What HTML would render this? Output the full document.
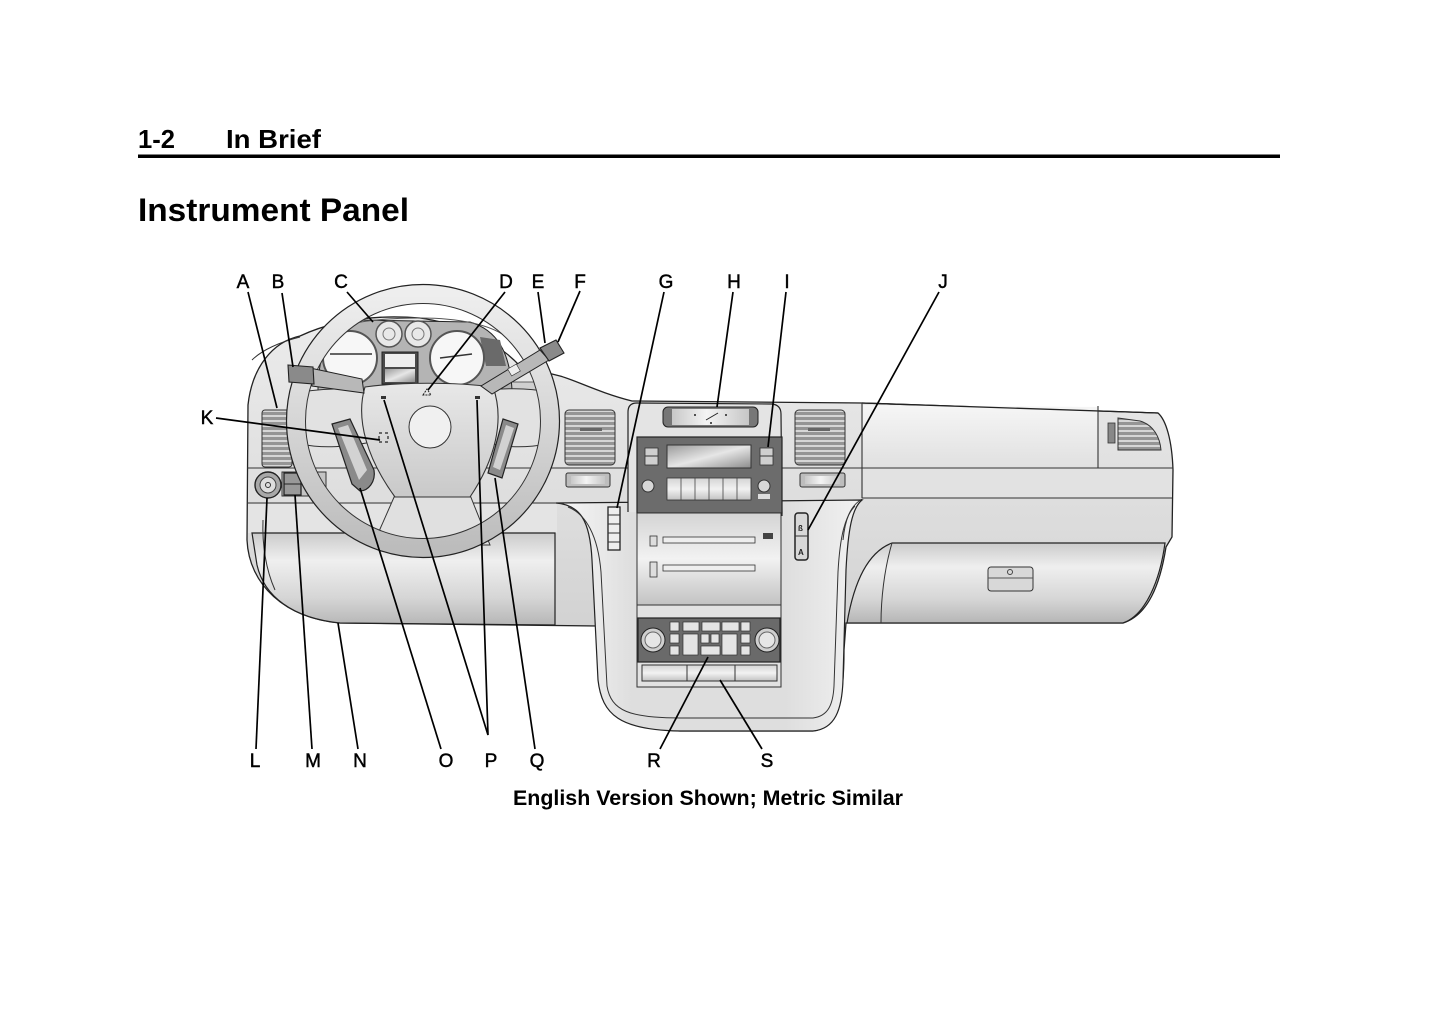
<!DOCTYPE html>
<html><head><meta charset="utf-8">
<style>
html,body{margin:0;padding:0;background:#fff;}
svg{display:block}
</style></head>
<body>
<svg width="1445" height="1012" viewBox="0 0 1445 1012" xmlns="http://www.w3.org/2000/svg" font-family="'Liberation Sans', Arial, sans-serif">
<defs>
  <linearGradient id="gDash" x1="0" y1="0" x2="0" y2="1">
    <stop offset="0" stop-color="#ececec"/><stop offset="0.5" stop-color="#dcdcdc"/><stop offset="1" stop-color="#c8c8c8"/>
  </linearGradient>
  <linearGradient id="gBol" x1="0" y1="0" x2="0" y2="1">
    <stop offset="0" stop-color="#cbcbcb"/><stop offset="0.3" stop-color="#efefef"/><stop offset="0.7" stop-color="#d6d6d6"/><stop offset="1" stop-color="#b6b6b6"/>
  </linearGradient>
  <linearGradient id="gRim" x1="0" y1="0" x2="0" y2="1">
    <stop offset="0" stop-color="#eeeeee"/><stop offset="0.5" stop-color="#d6d6d6"/><stop offset="1" stop-color="#bcbcbc"/>
  </linearGradient>
  <linearGradient id="gMetal" x1="0" y1="0" x2="1" y2="0">
    <stop offset="0" stop-color="#c8c8c8"/><stop offset="0.45" stop-color="#f4f4f4"/><stop offset="1" stop-color="#c6c6c6"/>
  </linearGradient>
  <linearGradient id="gMetalV" x1="0" y1="0" x2="0" y2="1">
    <stop offset="0" stop-color="#d4d4d4"/><stop offset="0.5" stop-color="#f2f2f2"/><stop offset="1" stop-color="#c2c2c2"/>
  </linearGradient>
  <linearGradient id="gDisp" x1="0" y1="0" x2="1" y2="1">
    <stop offset="0" stop-color="#9a9a9a"/><stop offset="0.5" stop-color="#e6e6e6"/><stop offset="1" stop-color="#8c8c8c"/>
  </linearGradient>
  <linearGradient id="gHub" x1="0" y1="0" x2="0" y2="1">
    <stop offset="0" stop-color="#e8e8e8"/><stop offset="1" stop-color="#c9c9c9"/>
  </linearGradient>
  <linearGradient id="gPillar" x1="0" y1="0" x2="1" y2="0">
    <stop offset="0" stop-color="#f8f8f8"/><stop offset="0.25" stop-color="#dedede"/><stop offset="0.75" stop-color="#dedede"/><stop offset="1" stop-color="#f2f2f2"/>
  </linearGradient>
  <linearGradient id="gRD" x1="0" y1="0" x2="0" y2="1">
    <stop offset="0" stop-color="#f6f6f6"/><stop offset="1" stop-color="#e0e0e0"/>
  </linearGradient>
  <pattern id="slats" x="0" y="0" width="6" height="5" patternUnits="userSpaceOnUse">
    <rect width="6" height="5" fill="#959595"/><rect y="0" width="6" height="2" fill="#d6d6d6"/>
  </pattern>
</defs>

<rect width="1445" height="1012" fill="#fff"/>

<!-- Header -->
<text x="138" y="148" font-size="26" font-weight="bold" textLength="37" lengthAdjust="spacingAndGlyphs">1-2</text>
<text x="226" y="148" font-size="26" font-weight="bold" textLength="95" lengthAdjust="spacingAndGlyphs">In Brief</text>
<rect x="138" y="154.5" width="1142" height="3.5" fill="#000"/>
<text x="138" y="221" font-size="32" font-weight="bold" textLength="271" lengthAdjust="spacingAndGlyphs">Instrument Panel</text>

<!-- ===== Dashboard base ===== -->
<path d="M300,336 C272,342 252,368 248,405 L247,540 C249,585 285,618 340,623 L597,626 C598,690 612,728 680,731 L813,731 C838,728 844,700 844,650 L846,623 L1123,623 C1148,615 1160,585 1166,547 L1172,537 L1173,470 C1172,440 1166,420 1158,413 L862,403 L632,401 C600,393 575,380 560,376 L520,366 C500,345 470,325 420,318 C370,314 330,322 300,336 Z" fill="url(#gDash)" stroke="#222" stroke-width="1.3"/>

<!-- left dash lines -->
<path d="M252,360 C262,350 280,342 300,337" fill="none" stroke="#333" stroke-width="1"/>
<line x1="247" y1="468" x2="632" y2="468" stroke="#333" stroke-width="1.1"/>
<line x1="247" y1="503" x2="558" y2="503" stroke="#333" stroke-width="1.1"/>
<rect x="248" y="504" width="309" height="29" fill="#e4e4e4"/>

<!-- knee bolster left -->
<path d="M252,533 L555,533 L555,625 L340,623 C292,618 264,596 257,565 Z" fill="url(#gBol)" stroke="#222" stroke-width="1.2"/>
<path d="M263,520 C262,545 266,570 275,590" fill="none" stroke="#333" stroke-width="1"/>

<!-- center pillar sweep -->
<path d="M556,503 C580,505 590,520 592,560 L598,680 C602,715 620,730 680,731 L813,731 C835,729 842,710 843,680 L846,570 C848,530 852,508 862,500 Z" fill="url(#gPillar)" stroke="#222" stroke-width="1.2"/>
<path d="M568,507 C586,514 598,536 601,572 L607,686 C611,711 630,718 680,718 L813,718 C828,716 833,705 834,686 L838,572 C840,536 845,516 855,506" fill="none" stroke="#333" stroke-width="1"/>

<!-- center stack top piece -->
<path d="M628,512 L628,412 Q628,403 637,403 L772,404 Q781,405 781,414 L782,516" fill="#e4e4e4" stroke="#222" stroke-width="1.2"/>

<!-- vents left/right of stack -->
<rect x="565" y="410" width="50" height="55" rx="4" fill="url(#slats)" stroke="#333" stroke-width="1"/>
<rect x="580" y="428" width="22" height="3" fill="#666"/>
<rect x="566" y="473" width="44" height="14" rx="2" fill="#bdbdbd" stroke="#333" stroke-width="1"/>
<rect x="571" y="476" width="34" height="8" fill="url(#gMetal)"/>
<rect x="795" y="410" width="50" height="55" rx="4" fill="url(#slats)" stroke="#333" stroke-width="1"/>
<rect x="808" y="428" width="22" height="3" fill="#666"/>
<rect x="800" y="473" width="45" height="14" rx="2" fill="#bdbdbd" stroke="#333" stroke-width="1"/>
<rect x="805" y="476" width="35" height="8" fill="url(#gMetal)"/>
<line x1="781" y1="468" x2="862" y2="468" stroke="#333" stroke-width="1.1"/>

<!-- right dash -->
<path d="M863,405 L1098,407 L1098,468 L863,468 Z" fill="url(#gRD)"/>
<rect x="863" y="469" width="309" height="29" fill="#e2e2e2"/>
<line x1="862" y1="403" x2="1158" y2="413" stroke="#222" stroke-width="1.3"/>
<line x1="862" y1="403" x2="862" y2="498" stroke="#333" stroke-width="1.1"/>
<line x1="1098" y1="406" x2="1098" y2="468" stroke="#333" stroke-width="1.1"/>
<line x1="862" y1="468" x2="1173" y2="468" stroke="#333" stroke-width="1.1"/>
<line x1="862" y1="498" x2="1172" y2="498" stroke="#333" stroke-width="1.1"/>
<path d="M862,499 C850,506 845,520 843,540" fill="none" stroke="#333" stroke-width="1"/>
<!-- right vent -->
<path d="M1118,418 L1140,421 C1154,425 1160,438 1161,450 L1118,450 Z" fill="url(#slats)" stroke="#333" stroke-width="1"/>
<rect x="1108" y="423" width="7" height="20" fill="#888" stroke="#333" stroke-width="0.8"/>
<!-- glove box -->
<path d="M892,543 L1165,543 C1160,580 1146,615 1123,623 L847,623 C854,582 868,552 892,543 Z" fill="url(#gBol)" stroke="#222" stroke-width="1.2"/>
<path d="M892,543 C884,570 881,600 881,623" fill="none" stroke="#333" stroke-width="1"/>
<rect x="988" y="567" width="45" height="24" rx="3" fill="#d8d8d8" stroke="#333" stroke-width="1"/>
<line x1="988" y1="578" x2="1033" y2="578" stroke="#555" stroke-width="1"/>
<circle cx="1010" cy="572" r="2.5" fill="none" stroke="#444"/>

<!-- clock -->
<rect x="663" y="407" width="95" height="20" rx="5" fill="#777" stroke="#222" stroke-width="1"/>
<rect x="672" y="409" width="77" height="16" fill="url(#gMetal)"/>
<line x1="706" y1="420" x2="718" y2="413" stroke="#222" stroke-width="1"/>
<circle cx="695" cy="415" r="1" fill="#222"/><circle cx="726" cy="415" r="1" fill="#222"/><circle cx="711" cy="423" r="1" fill="#222"/>

<!-- radio -->
<rect x="637" y="437" width="145" height="76" fill="#6c6c6c" stroke="#222" stroke-width="1.2"/>
<rect x="667" y="445" width="84" height="23" fill="url(#gDisp)" stroke="#333" stroke-width="1"/>
<rect x="645" y="448" width="13" height="17" fill="#cfcfcf" stroke="#333" stroke-width="0.8"/>
<line x1="645" y1="456" x2="658" y2="456" stroke="#333"/>
<rect x="760" y="448" width="13" height="17" fill="#cfcfcf" stroke="#333" stroke-width="0.8"/>
<line x1="760" y1="456" x2="773" y2="456" stroke="#333"/>
<rect x="667" y="478" width="84" height="22" fill="url(#gMetalV)" stroke="#333" stroke-width="0.8"/>
<g stroke="#444" stroke-width="0.8">
<line x1="681" y1="478" x2="681" y2="500"/><line x1="695" y1="478" x2="695" y2="500"/><line x1="709" y1="478" x2="709" y2="500"/><line x1="723" y1="478" x2="723" y2="500"/><line x1="737" y1="478" x2="737" y2="500"/>
</g>
<circle cx="648" cy="486" r="6" fill="#d6d6d6" stroke="#333"/>
<circle cx="764" cy="486" r="6" fill="#d6d6d6" stroke="#333"/>
<rect x="758" y="494" width="12" height="5" fill="#ddd"/>

<!-- CD area -->
<rect x="637" y="513" width="144" height="92" fill="url(#gMetalV)" stroke="#333" stroke-width="1"/>
<rect x="663" y="537" width="92" height="6" fill="#eee" stroke="#333" stroke-width="0.8"/>
<rect x="663" y="565" width="92" height="6" fill="#eee" stroke="#333" stroke-width="0.8"/>
<rect x="650" y="536" width="7" height="10" fill="#ddd" stroke="#333" stroke-width="0.8"/>
<rect x="650" y="562" width="7" height="15" fill="#ddd" stroke="#333" stroke-width="0.8"/>
<rect x="763" y="533" width="10" height="6" fill="#444"/>
<rect x="637" y="605" width="144" height="82" fill="#e2e2e2" stroke="#333" stroke-width="1"/>

<!-- climate -->
<rect x="638" y="618" width="142" height="44" fill="#6a6a6a" stroke="#222" stroke-width="1.2"/>
<circle cx="653" cy="640" r="12" fill="#cfcfcf" stroke="#222"/><circle cx="653" cy="640" r="8" fill="#e6e6e6" stroke="#666"/>
<circle cx="767" cy="640" r="12" fill="#cfcfcf" stroke="#222"/><circle cx="767" cy="640" r="8" fill="#e6e6e6" stroke="#666"/>
<g fill="#e4e4e4" stroke="#333" stroke-width="0.7">
<rect x="670" y="622" width="9" height="9"/><rect x="683" y="622" width="16" height="9"/><rect x="702" y="622" width="18" height="9"/><rect x="722" y="622" width="17" height="9"/><rect x="741" y="622" width="9" height="9"/>
<rect x="670" y="634" width="9" height="9"/><rect x="670" y="646" width="9" height="9"/>
<rect x="741" y="634" width="9" height="9"/><rect x="741" y="646" width="9" height="9"/>
<rect x="683" y="634" width="15" height="21"/><rect x="722" y="634" width="15" height="21"/>
<rect x="701" y="634" width="8" height="9"/><rect x="711" y="634" width="8" height="9"/>
<rect x="701" y="646" width="19" height="9"/>
</g>
<rect x="642" y="665" width="135" height="16" fill="url(#gMetalV)" stroke="#333" stroke-width="1"/>
<line x1="687" y1="665" x2="687" y2="681" stroke="#333"/><line x1="735" y1="665" x2="735" y2="681" stroke="#333"/>

<!-- G switch -->
<rect x="608" y="507" width="12" height="43" fill="#eee" stroke="#222" stroke-width="1.3"/>
<g stroke="#333" stroke-width="1"><line x1="608" y1="515" x2="620" y2="515"/><line x1="608" y1="524" x2="620" y2="524"/><line x1="608" y1="533" x2="620" y2="533"/><line x1="608" y1="542" x2="620" y2="542"/></g>
<!-- J switch -->
<rect x="795" y="513" width="13" height="47" rx="3" fill="#d8d8d8" stroke="#222" stroke-width="1.5"/>
<line x1="795" y1="536" x2="808" y2="536" stroke="#333"/>
<text x="798" y="531" font-size="8" font-weight="bold" fill="#222">ß</text>
<text x="798" y="555" font-size="8" font-weight="bold" fill="#222">A</text>

<!-- left vent A -->
<rect x="262" y="410" width="30" height="57" rx="3" fill="url(#slats)" stroke="#333" stroke-width="1"/>
<!-- L knob -->
<circle cx="268" cy="485" r="13" fill="#a8a8a8" stroke="#222" stroke-width="1.4"/>
<circle cx="268" cy="485" r="8" fill="#dedede" stroke="#444"/>
<circle cx="268" cy="485" r="2.5" fill="none" stroke="#333"/>
<!-- M switch -->
<rect x="282" y="472" width="44" height="24" fill="#c4c4c4" stroke="#333" stroke-width="1"/>
<rect x="284" y="473" width="17" height="22" fill="#999" stroke="#222" stroke-width="1.3"/>
<line x1="284" y1="484" x2="301" y2="484" stroke="#222"/>
<circle cx="313" cy="485" r="9" fill="#e0e0e0" stroke="#444"/>

<!-- small slot right of wheel -->
<rect x="510" y="382" width="28" height="10" fill="#cfcfcf" stroke="#444" stroke-width="0.8"/>

<!-- ===== Instrument cluster ===== -->
<path d="M318,390 C318,352 330,327 360,320 L470,322 C497,330 510,352 512,390 Z" fill="#b4b4b4" stroke="#222" stroke-width="1"/>
<path d="M330,330 C350,322 380,318 420,318 C460,318 490,325 505,336" fill="none" stroke="#555" stroke-width="1"/>
<path d="M480,337 L500,340 L506,366 L486,366 Z" fill="#6a6a6a"/>
<circle cx="350" cy="358" r="27" fill="#f7f7f7" stroke="#555" stroke-width="2"/>
<line x1="330" y1="354" x2="372" y2="354" stroke="#333" stroke-width="1.5"/>
<circle cx="457" cy="358" r="27" fill="#f7f7f7" stroke="#555" stroke-width="2"/>
<line x1="440" y1="358" x2="472" y2="354" stroke="#333" stroke-width="1.5"/>
<circle cx="389" cy="334" r="13" fill="#e8e8e8" stroke="#555" stroke-width="1.5"/>
<circle cx="389" cy="334" r="6" fill="none" stroke="#777"/>
<circle cx="418" cy="334" r="13" fill="#e8e8e8" stroke="#555" stroke-width="1.5"/>
<circle cx="418" cy="334" r="6" fill="none" stroke="#777"/>
<rect x="382" y="352" width="36" height="32" fill="#4a4a4a" stroke="#222"/>
<rect x="385" y="354" width="30" height="13" fill="#eee"/>
<rect x="385" y="369" width="30" height="13" fill="url(#gDisp)"/>

<!-- ===== Steering wheel ===== -->
<path d="M300,392 C330,388 350,388 368,390 L372,442 C340,448 320,448 300,444 Z" fill="#e2e2e2" stroke="#333" stroke-width="1"/>
<path d="M488,390 C510,388 530,388 548,392 L548,444 C525,448 505,448 485,442 Z" fill="#e2e2e2" stroke="#333" stroke-width="1"/>
<path d="M395,495 L470,495 L490,545 L373,545 Z" fill="#e0e0e0" stroke="#333" stroke-width="1"/>
<path d="M365,387 C400,382 455,382 493,387 C505,420 495,460 470,497 L395,497 C368,460 355,420 365,387 Z" fill="url(#gHub)" stroke="#333" stroke-width="1.1"/>
<circle cx="430" cy="427" r="21" fill="#f0f0f0" stroke="#333" stroke-width="1"/>
<path d="M423,395 L427,389 L431,395 Z" fill="none" stroke="#222" stroke-width="1" stroke-dasharray="2,1"/>
<rect x="381" y="396" width="5" height="3" fill="#333"/>
<rect x="475" y="396" width="5" height="3" fill="#333"/>
<rect x="379" y="433" width="9" height="9" fill="none" stroke="#222" stroke-width="1.2" stroke-dasharray="3,3"/>
<!-- paddles -->
<path d="M332,424 L350,419 L374,470 C376,482 368,491 360,491 L352,484 Z" fill="#8a8a8a" stroke="#222" stroke-width="1.2"/>
<path d="M338,428 L348,425 L367,470 L359,480 Z" fill="#d2d2d2"/>
<path d="M503,419 L518,424 L502,478 L488,473 Z" fill="#8a8a8a" stroke="#222" stroke-width="1.2"/>
<path d="M506,425 L514,428 L500,470 L493,467 Z" fill="#d2d2d2"/>
<!-- rim -->
<circle cx="423" cy="421" r="127" fill="none" stroke="url(#gRim)" stroke-width="19"/>
<circle cx="423" cy="421" r="136.5" fill="none" stroke="#222" stroke-width="1.2"/>
<circle cx="423" cy="421" r="117.5" fill="none" stroke="#333" stroke-width="1"/>
<!-- stalks -->
<path d="M310,368 L362,379 L364,393 L312,386 Z" fill="#b8b8b8" stroke="#222" stroke-width="1"/>
<path d="M288,365 L313,367 L314,384 L289,382 Z" fill="#8a8a8a" stroke="#222" stroke-width="1.1"/>
<path d="M540,350 L549,360 L492,394 L481,386 Z" fill="#b8b8b8" stroke="#222" stroke-width="1"/>
<path d="M540,348 L556,340 L564,353 L549,361 Z" fill="#8a8a8a" stroke="#222" stroke-width="1.1"/>
<rect x="509" y="366" width="10" height="8" fill="#eee" stroke="#333" stroke-width="0.6" transform="rotate(-30 514 370)"/>

<!-- ===== Leader lines ===== -->
<g stroke="#000" stroke-width="1.7" fill="none">
<line x1="248" y1="292" x2="277" y2="408"/>
<line x1="282" y1="293" x2="293" y2="367"/>
<line x1="347" y1="292" x2="373" y2="322"/>
<line x1="505" y1="292" x2="428" y2="390"/>
<line x1="538" y1="292" x2="545" y2="343"/>
<line x1="580" y1="291" x2="558" y2="342"/>
<line x1="664" y1="292" x2="617" y2="508"/>
<line x1="733" y1="292" x2="717" y2="407"/>
<line x1="786" y1="292" x2="768" y2="447"/>
<line x1="939" y1="292" x2="808" y2="530"/>
<line x1="216" y1="418" x2="380" y2="440"/>
<line x1="256" y1="749" x2="267" y2="498"/>
<line x1="312" y1="749" x2="295" y2="495"/>
<line x1="358" y1="749" x2="338" y2="623"/>
<line x1="441" y1="749" x2="360" y2="488"/>
<polyline points="384,400 488,735 477,400"/>
<line x1="535" y1="749" x2="495" y2="478"/>
<line x1="660" y1="749" x2="708" y2="657"/>
<line x1="762" y1="749" x2="720" y2="680"/>
</g>

<!-- ===== Labels ===== -->
<g font-size="19" fill="#000" stroke="#000" stroke-width="0.45" text-anchor="middle">
<text x="243" y="288">A</text>
<text x="278" y="288">B</text>
<text x="341" y="288">C</text>
<text x="506" y="288">D</text>
<text x="538" y="288">E</text>
<text x="580" y="288">F</text>
<text x="666" y="288">G</text>
<text x="734" y="288">H</text>
<text x="787" y="288">I</text>
<text x="943" y="288">J</text>
<text x="207" y="424">K</text>
<text x="255" y="767">L</text>
<text x="313" y="767">M</text>
<text x="360" y="767">N</text>
<text x="446" y="767">O</text>
<text x="491" y="767">P</text>
<text x="537" y="767">Q</text>
<text x="654" y="767">R</text>
<text x="767" y="767">S</text>
</g>

<text x="513" y="805" font-size="21" font-weight="bold" textLength="390" lengthAdjust="spacingAndGlyphs">English Version Shown; Metric Similar</text>
</svg>
</body></html>
